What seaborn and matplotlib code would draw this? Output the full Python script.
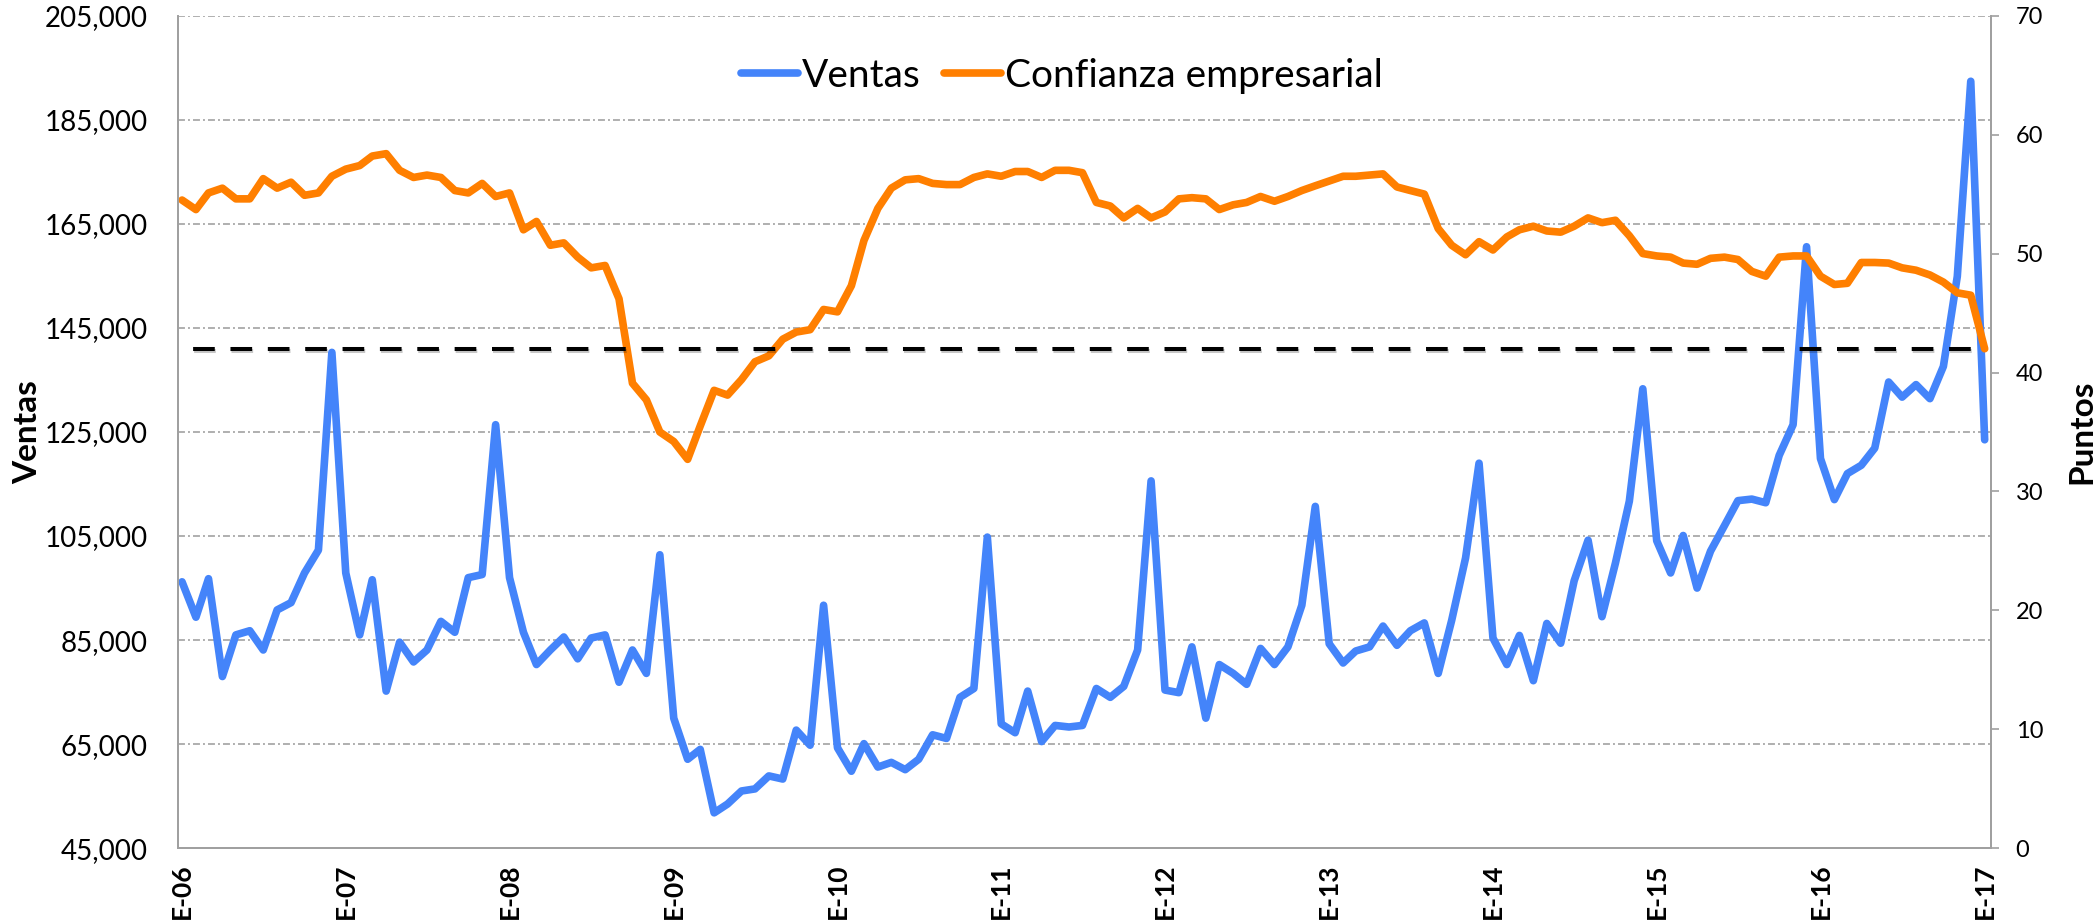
import numpy as np
import pandas as pd
import matplotlib
matplotlib.use("Agg")
import matplotlib.pyplot as plt
import matplotlib.patheffects as pe
from matplotlib.ticker import FuncFormatter
import seaborn as sns

# Ventas mensuales (miles), enero 2006 - enero 2017
ventas_miles = [
    96.2, 89.4, 96.8, 78.0, 86.0, 86.8, 83.1, 90.8, 92.2, 97.9, 102.3, 140.3,
    97.9, 86.0, 96.6, 75.2, 84.6, 80.8, 83.1, 88.6, 86.5, 97.0, 97.6, 126.4,
    97.0, 86.5, 80.3, 83.1, 85.6, 81.4, 85.4, 86.0, 76.9, 83.1, 78.6, 101.4,
    70.0, 62.1, 64.0, 51.8, 53.5, 56.0, 56.4, 58.9, 58.3, 67.7, 64.8, 91.7,
    64.3, 59.8, 65.1, 60.6, 61.5, 60.1, 62.1, 66.8, 66.1, 74.0, 75.7, 104.8,
    68.9, 67.2, 75.2, 65.5, 68.6, 68.3, 68.6, 75.7, 74.0, 76.1, 83.1, 115.6,
    75.4, 74.9, 83.7, 70.0, 80.3, 78.6, 76.5, 83.4, 80.3, 83.7, 91.7, 110.7,
    84.3, 80.6, 82.9, 83.7, 87.7, 84.0, 86.8, 88.3, 78.6, 88.8, 100.8, 119.0,
    85.4, 80.3, 85.9, 77.2, 88.2, 84.4, 96.4, 104.2, 89.5, 99.8, 111.7, 133.3,
    104.1, 97.9, 105.1, 95.0, 102.1, 107.0, 111.8, 112.1, 111.4, 120.5, 126.4, 160.6,
    119.9, 112.0, 117.0, 118.6, 121.9, 134.6, 131.7, 134.1, 131.4, 137.6, 154.9, 192.4,
    123.5,
]

# Confianza empresarial (puntos)
confianza = [
    54.5, 53.7, 55.1, 55.5, 54.6, 54.6, 56.3, 55.5, 56.0, 54.9, 55.1, 56.5,
    57.1, 57.4, 58.2, 58.4, 57.0, 56.4, 56.6, 56.4, 55.3, 55.1, 55.9, 54.8,
    55.1, 52.0, 52.7, 50.7, 50.9, 49.7, 48.8, 49.0, 46.2, 39.1, 37.7, 35.0,
    34.2, 32.7, 35.5, 38.5, 38.1, 39.4, 40.9, 41.4, 42.8, 43.4, 43.6, 45.3,
    45.1, 47.3, 51.1, 53.8, 55.5, 56.2, 56.3, 55.9, 55.8, 55.8, 56.4, 56.7,
    56.5, 56.9, 56.9, 56.4, 57.0, 57.0, 56.8, 54.3, 54.0, 53.0, 53.8, 53.0,
    53.5, 54.6, 54.7, 54.6, 53.7, 54.1, 54.3, 54.8, 54.4, 54.8, 55.3, 55.7,
    56.1, 56.5, 56.5, 56.6, 56.7, 55.6, 55.3, 55.0, 52.1, 50.7, 49.9, 51.0,
    50.3, 51.4, 52.0, 52.3, 51.9, 51.8, 52.3, 53.0, 52.6, 52.8, 51.5, 50.0,
    49.8, 49.7, 49.2, 49.1, 49.6, 49.7, 49.5, 48.5, 48.1, 49.7, 49.8, 49.8,
    48.1, 47.4, 47.5, 49.25, 49.25, 49.2, 48.8, 48.6, 48.2, 47.6, 46.7, 46.5,
    42.0,
]

etiquetas = ["E-06", "E-07", "E-08", "E-09", "E-10", "E-11",
             "E-12", "E-13", "E-14", "E-15", "E-16", "E-17"]

fechas = pd.date_range("2006-01-01", periods=len(ventas_miles), freq="MS")
data = pd.DataFrame({
    "fecha": fechas,
    "ventas": np.array(ventas_miles) * 1000,
    "confianza": confianza,
})

# Estilo
sns.set_theme(style="white")
plt.rcParams["font.family"] = ["Lato", "DejaVu Sans"]
plt.rcParams["lines.scale_dashes"] = False
for k in ["text.color", "axes.labelcolor", "xtick.color", "ytick.color"]:
    plt.rcParams[k] = "black"

AZUL = "#4484fa"
NARANJA = "#ff7f00"
GRIS = "#a0a0a0"

fig, ax = plt.subplots(figsize=(20.94, 9.24), dpi=100)
fig.subplots_adjust(left=0.085, right=0.951, top=0.983, bottom=0.082)
ax2 = ax.twinx()

sns.lineplot(data=data, x="fecha", y="ventas", ax=ax, color=AZUL, lw=5.5,
             solid_joinstyle="round", solid_capstyle="round")
sns.lineplot(data=data, x="fecha", y="confianza", ax=ax2, color=NARANJA, lw=5.5,
             solid_joinstyle="round", solid_capstyle="round")

# Linea de referencia en el ultimo valor de confianza
ax2.plot([fechas[0], fechas[-1]], [confianza[-1]] * 2, color="black", lw=2.9,
         linestyle=(18.9, (15.6, 11.3)), dash_capstyle="butt",
         path_effects=[pe.SimpleLineShadow(offset=(0.8, -1.8), shadow_color="black", alpha=0.22),
                       pe.Normal()])

# Eje x
ax.set_xlim(fechas[0] - pd.Timedelta(days=9), fechas[-1] + pd.Timedelta(days=15))
ax.set_xticks(fechas[::12])
ax.set_xticklabels(etiquetas, rotation=90, fontweight="bold", fontsize=19)
ax.tick_params(axis="x", length=0, pad=11)
ax.set_xlabel("")

# Eje izquierdo
ax.set_ylim(45000, 205000)
ax.set_yticks(np.arange(45000, 205001, 20000))
ax.yaxis.set_major_formatter(FuncFormatter(lambda v, p: f"{v:,.0f}"))
ax.tick_params(axis="y", length=0, pad=22, labelsize=20)
ax.grid(axis="y", color="#9a9a9a", lw=1.1, linestyle=(0, (5, 2.2, 1.4, 2.2)))
ax.set_ylabel("Ventas", fontsize=24, fontweight="bold")
ax.yaxis.set_label_coords(-0.075, 0.5)

# Eje derecho
ax2.set_ylim(0, 70)
ax2.set_yticks(range(0, 71, 10))
ax2.tick_params(axis="y", length=5.5, width=1.2, color=GRIS, labelcolor="black",
                pad=12, labelsize=17, direction="out")
ax2.set_ylabel("Puntos", fontsize=24, fontweight="bold")
ax2.yaxis.set_label_coords(1.0419, 0.5)

for a in (ax, ax2):
    a.spines["top"].set_visible(False)
    for s in ("left", "right", "bottom"):
        a.spines[s].set_color(GRIS)
        a.spines[s].set_linewidth(1.3)

handles = [ax.get_lines()[0], ax2.get_lines()[0]]
fig.legend(handles, ["Ventas", "Confianza empresarial"], loc="center",
           bbox_to_anchor=(0.507, 0.918), ncol=2, frameon=False, fontsize=28,
           handlelength=1.47, handletextpad=0.1, columnspacing=0.6)

fig.savefig("out.png", dpi=100)
